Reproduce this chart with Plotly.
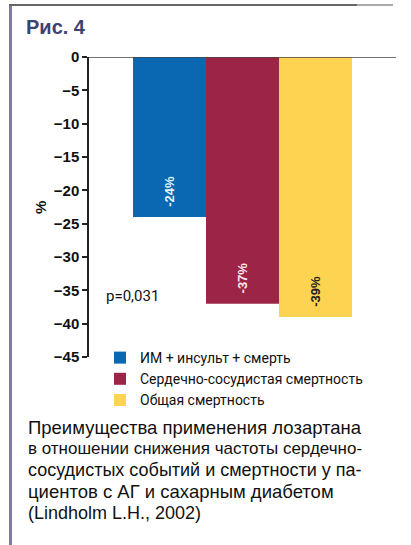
import plotly.graph_objects as go

categories = ["ИМ + инсульт + смерть", "Сердечно-сосудистая смертность", "Общая смертность"]
values = [-24, -37, -39]
bar_labels = ["-24%", "-37%", "-39%"]
positions = [1, 2, 3]
colors = ["#0a68b2", "#9c2547", "#fdd451"]
label_colors = ["#e8f2ff", "#ffe8ee", "#222222"]
tick_vals = [0, -5, -10, -15, -20, -25, -30, -35, -40, -45]
tick_text = ["0", "−5", "−10", "−15", "−20", "−25", "−30", "−35", "−40", "−45"]
caption_lines = [
    "Преимущества применения лозартана",
    "в отношении снижения частоты сердечно-",
    "сосудистых событий и смертности у па-",
    "циентов с АГ и сахарным диабетом",
    "(Lindholm L.H., 2002)",
]

W, H = 411, 545
L, R, T, B = 89, 15, 57, 188
pw = W - L - R
ph = H - T - B

def px(x):
    return (x - L) / pw

def py(y):
    return (H - B - y) / ph

fig = go.Figure()
for c, v, t, p, col, lc in zip(categories, values, bar_labels, positions, colors, label_colors):
    fig.add_trace(go.Bar(
        x=[p], y=[v], name=c, width=1, marker=dict(color=col, line=dict(width=0)),
        text=["\u00a0\u00a0" + t], textposition="inside", insidetextanchor="end", textangle=-90,
        textfont=dict(color=lc, size=13, family="Liberation Sans", weight="bold"),
    ))

fig.update_layout(
    width=W, height=H,
    margin=dict(l=L, r=R, t=T, b=B),
    paper_bgcolor="white", plot_bgcolor="white",
    barmode="overlay",
    showlegend=True,
    legend=dict(x=px(100), y=py(342), xanchor="left", yanchor="top",
                font=dict(family="Roboto", size=14, color="#111"),
                tracegroupgap=0, bgcolor="rgba(0,0,0,0)"),
    font=dict(family="Liberation Sans", color="#111"),
)
fig.update_xaxes(range=[0.5 - 44 / 73, 0.5 - 44 / 73 + pw / 73], visible=False, fixedrange=True)
fig.update_yaxes(range=[-45, 0], tickvals=tick_vals, ticktext=tick_text,
                 showgrid=False, zeroline=False, showline=True, linecolor="#222", linewidth=1.5,
                 ticks="outside", ticklen=5, tickcolor="#222", tickwidth=1.5,
                 tickfont=dict(family="Liberation Sans", size=15, weight="bold", color="#111"),
                 fixedrange=True)

fig.update_layout(shapes=[
    dict(type="line", xref="paper", yref="y", x0=0, x1=1, y0=0, y1=0,
         line=dict(color="#444", width=1.5), layer="above"),
])

# page frame drawn as empty annotation boxes
def frame_box(x_left, y_top, w, h, color):
    fig.add_annotation(xref="paper", yref="paper", x=px(x_left), y=py(y_top),
                       xanchor="left", yanchor="top", text=" ", showarrow=False,
                       width=w, height=h, bgcolor=color, borderpad=0, borderwidth=0,
                       font=dict(size=1))

frame_box(9, 4, 3, 541, "#7c7ca4")
frame_box(9, 4, 348, 2, "#666666")
frame_box(357, 4, 36, 2, "#aaaaaa")

fig.add_annotation(xref="paper", yref="paper", x=px(40), y=py(208), xanchor="center", yanchor="middle",
                   text="<b>%</b>", showarrow=False, textangle=-90,
                   font=dict(family="Liberation Sans", size=15, color="#111"))
fig.add_annotation(xref="paper", yref="paper", x=px(24), y=py(27), xanchor="left", yanchor="middle",
                   text="<b>Рис. 4</b>", showarrow=False,
                   font=dict(family="Liberation Sans", size=20, color="#3d4270"))
fig.add_annotation(xref="paper", yref="paper", x=px(104), y=py(296), xanchor="left", yanchor="middle",
                   text="p=0,031", showarrow=False,
                   font=dict(family="Roboto", size=15, color="#111"))
line_y = [427, 448.5, 470, 491.5, 513]
line_size = [18.5, 17, 18, 18.5, 18]
for txt, yy, sz in zip(caption_lines, line_y, line_size):
    fig.add_annotation(xref="paper", yref="paper", x=px(26), y=py(yy), xanchor="left", yanchor="middle",
                       text=txt, showarrow=False, align="left",
                       font=dict(family="Liberation Sans", size=sz, color="#111"))

fig.write_html("out.html", config={"displayModeBar": False},
               post_script="document.body.style.margin='0px';")
